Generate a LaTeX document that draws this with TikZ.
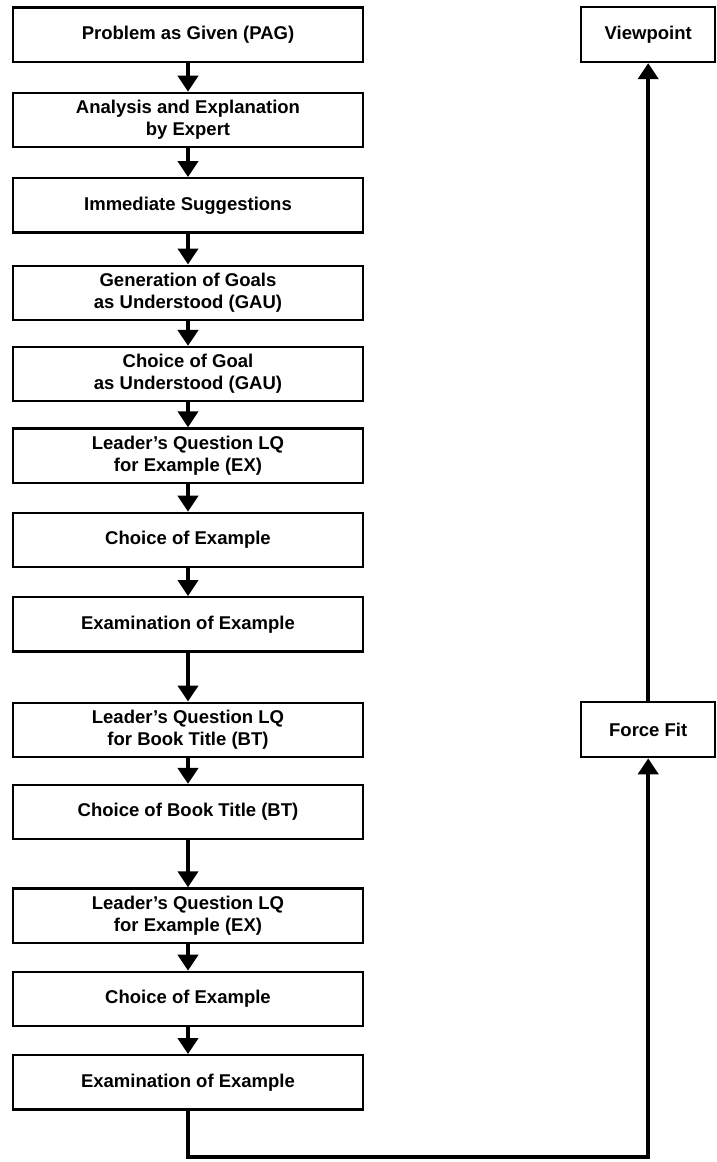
\documentclass[tikz,border=0pt]{standalone}
\usepackage{fontspec}
\setmainfont{Liberation Sans}
\usepackage{tikz}
\usetikzlibrary{arrows.meta, positioning}
\tikzset{
    stagebox/.style={rectangle, draw=black, line width=2.2pt, fill=white,
                     align=center, minimum width=350pt, minimum height=54.2pt,
                     inner sep=4pt, font=\fontsize{18.5}{22}\selectfont\bfseries},
    sidebox/.style={stagebox, minimum width=134pt, minimum height=55pt},
    flow/.style={-{Triangle[length=16pt, width=20pt]}, line width=4pt, draw=black},
}
\begin{document}
\begin{tikzpicture}[node distance=28pt, every node/.style={align=center}]
        \useasboundingbox (0pt,0pt) rectangle (716pt,-1162pt);
        % main column
        \node[stagebox] (pag) at (188pt,-34.5pt) {Problem as Given (PAG)};
        \node[stagebox, below=29pt of pag] (expert) {Analysis and Explanation\\by Expert};
        \node[stagebox, below=29pt of expert] (suggest) {Immediate Suggestions};
        \node[stagebox, below=31pt of suggest] (gengoal) {Generation of Goals\\as Understood (GAU)};
        \node[stagebox, below=25pt of gengoal] (choosegoal) {Choice of Goal\\as Understood (GAU)};
        \node[stagebox, below=25pt of choosegoal] (lqex) {Leader's Question LQ\\for Example (EX)};
        \node[stagebox, below=of lqex] (chooseex) {Choice of Example};
        \node[stagebox, below=of chooseex] (examex) {Examination of Example};
        \node[stagebox, below=49pt of examex] (lqbt) {Leader's Question LQ\\for Book Title (BT)};
        \node[stagebox, below=26pt of lqbt] (choosebt) {Choice of Book Title (BT)};
        \node[stagebox, below=47pt of choosebt] (lqexb) {Leader's Question LQ\\for Example (EX)};
        \node[stagebox, below=27pt of lqexb] (chooseexb) {Choice of Example};
        \node[stagebox, below=27pt of chooseexb] (examexb) {Examination of Example};
        % right column
        \node[sidebox, right=216pt of lqbt] (forcefit) {Force Fit};
        \node[sidebox] (viewpoint) at (forcefit |- pag) {Viewpoint};
        \draw[flow] (pag) -- (expert);
        \draw[flow] (expert) -- (suggest);
        \draw[flow] (suggest) -- (gengoal);
        \draw[flow] (gengoal) -- (choosegoal);
        \draw[flow] (choosegoal) -- (lqex);
        \draw[flow] (lqex) -- (chooseex);
        \draw[flow] (chooseex) -- (examex);
        \draw[flow] (examex) -- (lqbt);
        \draw[flow] (lqbt) -- (choosebt);
        \draw[flow] (choosebt) -- (lqexb);
        \draw[flow] (lqexb) -- (chooseexb);
        \draw[flow] (chooseexb) -- (examexb);
        \draw[flow] (examexb.south) -- ++(0,-46pt) -| (forcefit.south);
        \draw[flow] (forcefit) -- (viewpoint);
    \end{tikzpicture}
\end{document}
